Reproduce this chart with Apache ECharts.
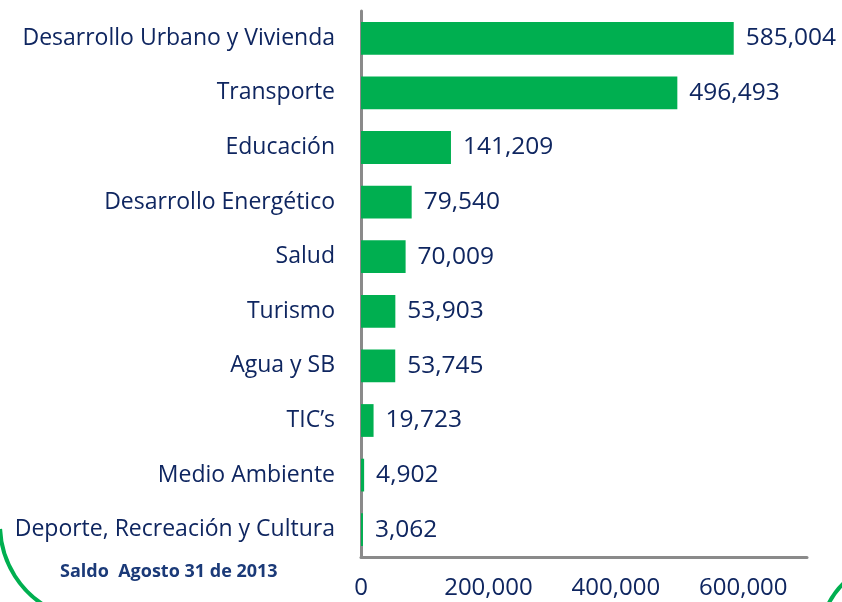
<!DOCTYPE html>
<html>
<head>
<meta charset="utf-8">
<script src="https://cdn.jsdelivr.net/npm/echarts@6/dist/echarts.min.js"></script>
<style>
  html, body { margin: 0; padding: 0; background: #fff; }
  #chart { width: 842px; height: 602px; }
</style>
</head>
<body>
<div id="chart"></div>
<script>
// sectores y saldos
var categories = [
  'Desarrollo Urbano y Vivienda',
  'Transporte',
  'Educación',
  'Desarrollo Energético',
  'Salud',
  'Turismo',
  'Agua y SB',
  'TIC’s',
  'Medio Ambiente',
  'Deporte, Recreación y Cultura'
];
var saldos = [585004, 496493, 141209, 79540, 70009, 53903, 53745, 19723, 4902, 3062];
var axisMax = 700000;
var axisStep = 200000;
var nota = 'Saldo  Agosto 31 de 2013';

var navy = '#0F2660';
var fmt = function (v) { return Number(v).toLocaleString('en-US'); };

var chart = echarts.init(document.getElementById('chart'));
chart.setOption({
  animation: false,
  textStyle: { fontFamily: 'Open Sans' },
  grid: { left: 361, right: 35, top: 11, bottom: 45 },
  xAxis: {
    type: 'value',
    min: 0,
    max: axisMax,
    interval: axisStep,
    axisLine: { show: true, lineStyle: { color: '#8a8a8a', width: 3 } },
    axisTick: { show: false },
    splitLine: { show: false },
    axisLabel: {
      color: navy,
      fontSize: 24,
      margin: 19,
      showMaxLabel: false,
      formatter: fmt
    }
  },
  yAxis: {
    type: 'category',
    data: categories,
    inverse: true,
    axisLine: { show: true, lineStyle: { color: '#8a8a8a', width: 3 } },
    axisTick: { show: false },
    axisLabel: { color: navy, fontSize: 23, margin: 26 }
  },
  series: [{
    type: 'bar',
    data: saldos,
    barCategoryGap: '40%',
    itemStyle: { color: '#00AF50' },
    label: {
      show: true,
      position: 'right',
      distance: 12,
      color: navy,
      fontSize: 24.5,
      formatter: function (p) { return fmt(p.value); }
    }
  }],
  graphic: [
    {
      type: 'text',
      left: 60,
      top: 563,
      style: { text: nota, fill: '#1B3A78', font: 'bold 18px "Open Sans"' }
    },
    {
      type: 'arc',
      shape: { cx: 95, cy: 525, r: 95, startAngle: 2.05, endAngle: 3.1 },
      style: { stroke: '#00AF50', lineWidth: 4, fill: null }
    },
    {
      type: 'arc',
      shape: { cx: 900, cy: 640, r: 80, startAngle: -2.9, endAngle: -2.2 },
      style: { stroke: '#00AF50', lineWidth: 4, fill: null }
    }
  ]
});
</script>
</body>
</html>
